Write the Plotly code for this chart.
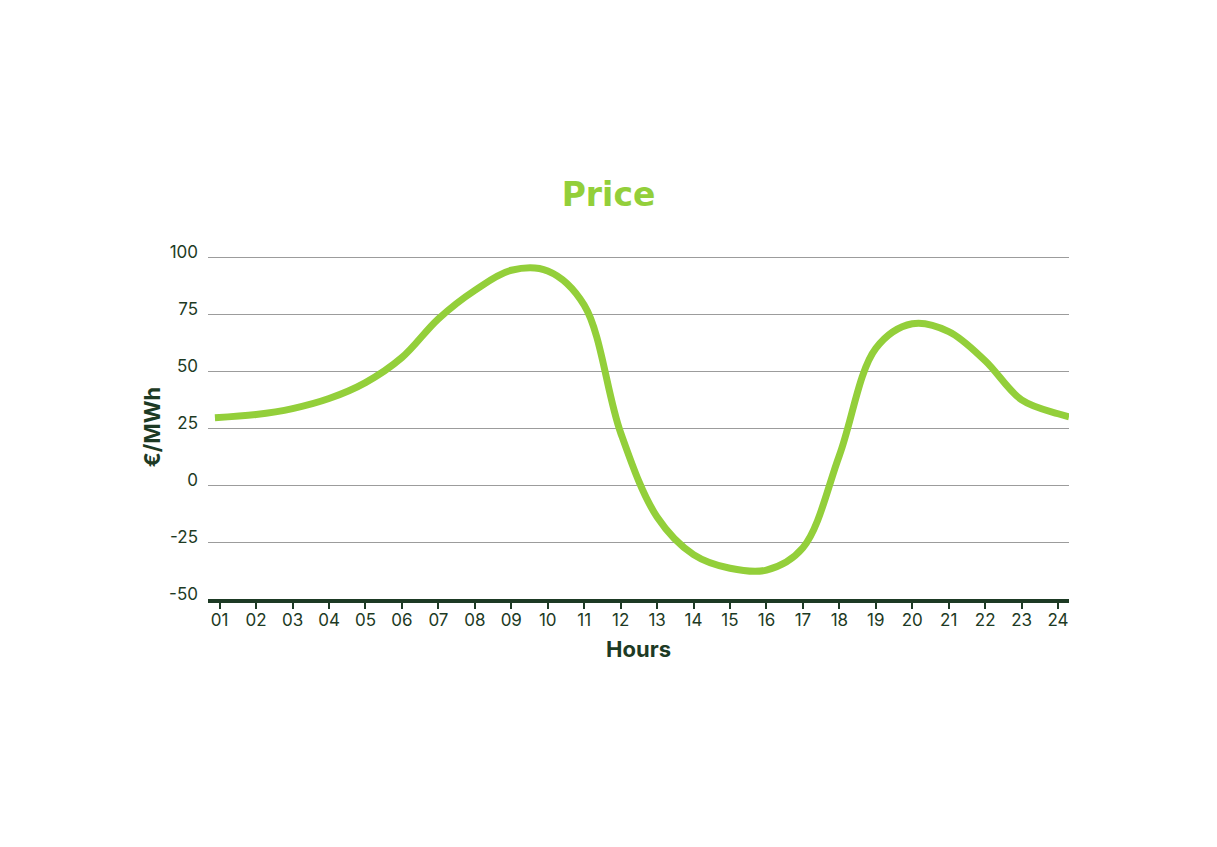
import plotly.graph_objects as go

# Data
hours = [0.87, 2, 3, 4, 5, 6, 7, 8, 9, 10, 11, 12, 13, 14, 15, 16, 17, 18, 19, 20, 21, 22, 23, 24, 24.3]
price = [29.6, 31, 33.6, 38, 45, 56, 73, 85.5, 94.3, 94, 79, 23, -14, -30.5, -36.5, -37.3, -27.5, 13, 60, 70.8, 67.4, 54.6, 37.4, 31.3, 30]

tick_hours = list(range(1, 25))
tick_labels = [f"{h:02d}" for h in tick_hours]
y_ticks = [-50, -25, 0, 25, 50, 75, 100]
y_labels = ["-50", "-25", "0", "25", "50", "75", "100"]

GREEN = "#93cf3a"
DARK = "#1d3a24"

W, H = 1201, 831  # page adds an 8px body margin

fig = go.Figure()
fig.add_trace(go.Scatter(
    x=hours, y=price, mode="lines",
    line=dict(color=GREEN, width=7, shape="spline", smoothing=1.0),
    hoverinfo="skip", showlegend=False,
))

fig.update_layout(
    width=W, height=H,
    paper_bgcolor="white", plot_bgcolor="white",
    margin=dict(l=200, r=140, t=246.7, b=240),
    font=dict(family="Inter", color=DARK),
    title=dict(text="<b>Price</b>", x=0.5, xref="container", xanchor="center",
               y=1 - 186 / H, yref="container", yanchor="middle",
               font=dict(family="DejaVu Sans", size=33, color=GREEN)),
    showlegend=False,
)

fig.update_xaxes(
    range=[0.68, 24.3], tickvals=tick_hours, ticktext=tick_labels,
    showgrid=False, zeroline=False,
    showline=True, linecolor=DARK, linewidth=4,
    ticks="outside", ticklen=6, tickwidth=1.5, tickcolor=DARK,
    tickfont=dict(size=17, color=DARK), ticklabelstandoff=-3,
    title=dict(text="<b>Hours</b>", font=dict(size=22, color=DARK), standoff=13),
)
fig.update_yaxes(
    range=[-50, 101], tickvals=y_ticks, ticktext=y_labels,
    showgrid=True, gridcolor="#9c9c9c", gridwidth=1,
    zeroline=False, showline=False, ticks="",
    tickfont=dict(size=17, color=DARK),
    ticklabelstandoff=9, ticklabelshift=-5,
    title=dict(text="<b>€/MWh</b>", font=dict(size=22, color=DARK), standoff=2),
)

fig.write_html("out.html")
